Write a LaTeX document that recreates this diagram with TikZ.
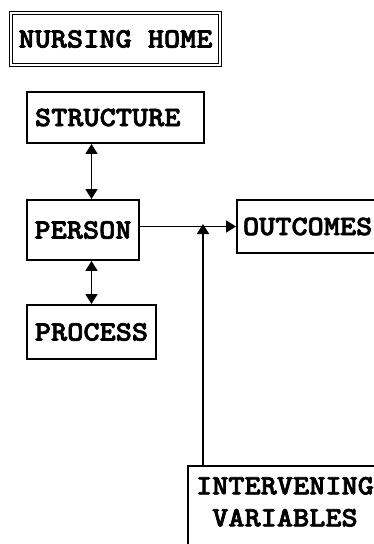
\documentclass[tikz,border=0pt]{standalone}
\usepackage{fontspec}
\newfontfamily\cour{lmmonolt10-bold}[Extension=.otf, FakeStretch=1.1, FakeBold=2.5]
\usetikzlibrary{arrows.meta}
\tikzset{mytip/.tip={Triangle[width=12pt,length=10pt]}}
\begin{document}
\begin{tikzpicture}[x=1pt,y=-1pt,
  box/.style={draw, line width=1.9pt, inner sep=0pt, font=\cour\fontsize{28}{32}\selectfont},
  conn/.style={line width=1.8pt}]
\useasboundingbox (0,0) rectangle (374,544);
\clip (0,0) rectangle (374,544);
\node[box, line width=1.2pt, double, double distance=2pt, minimum width=209pt, minimum height=52pt] (nh) at (115.5,39) {NURSING HOME};
\node[box, inner xsep=8pt, text width=161pt, align=left, minimum height=51pt] (st) at (115.5,117.5) {STRUCTURE};
\node[box, minimum width=112pt, minimum height=60pt] (pe) at (83,230) {PERSON};
\node[box, minimum width=129pt, minimum height=54pt] (pr) at (91.5,332) {PROCESS};
\node[box, anchor=west, minimum height=53pt, inner xsep=6pt, text width=160pt, align=left] (ou) at (236,226.5) {OUTCOMES};
\node[box, anchor=north west, minimum width=194pt, inner ysep=11pt, align=center, text depth=120pt] (iv) at (187,465) {INTERVENING\\VARIABLES};
\coordinate (v) at (91.5,0);
\coordinate (j) at (203,224);
\draw[conn, {mytip}-{mytip}] (st.south -| v) -- (pe.north -| v);
\draw[conn, {mytip}-{mytip}] (pe.south -| v) -- (pr.north -| v);
\draw[conn, -{mytip}] (pe.east |- ou.west) -- (ou.west);
\draw[conn, -{mytip}] (iv.north -| j) -- (j);
\end{tikzpicture}
\end{document}
